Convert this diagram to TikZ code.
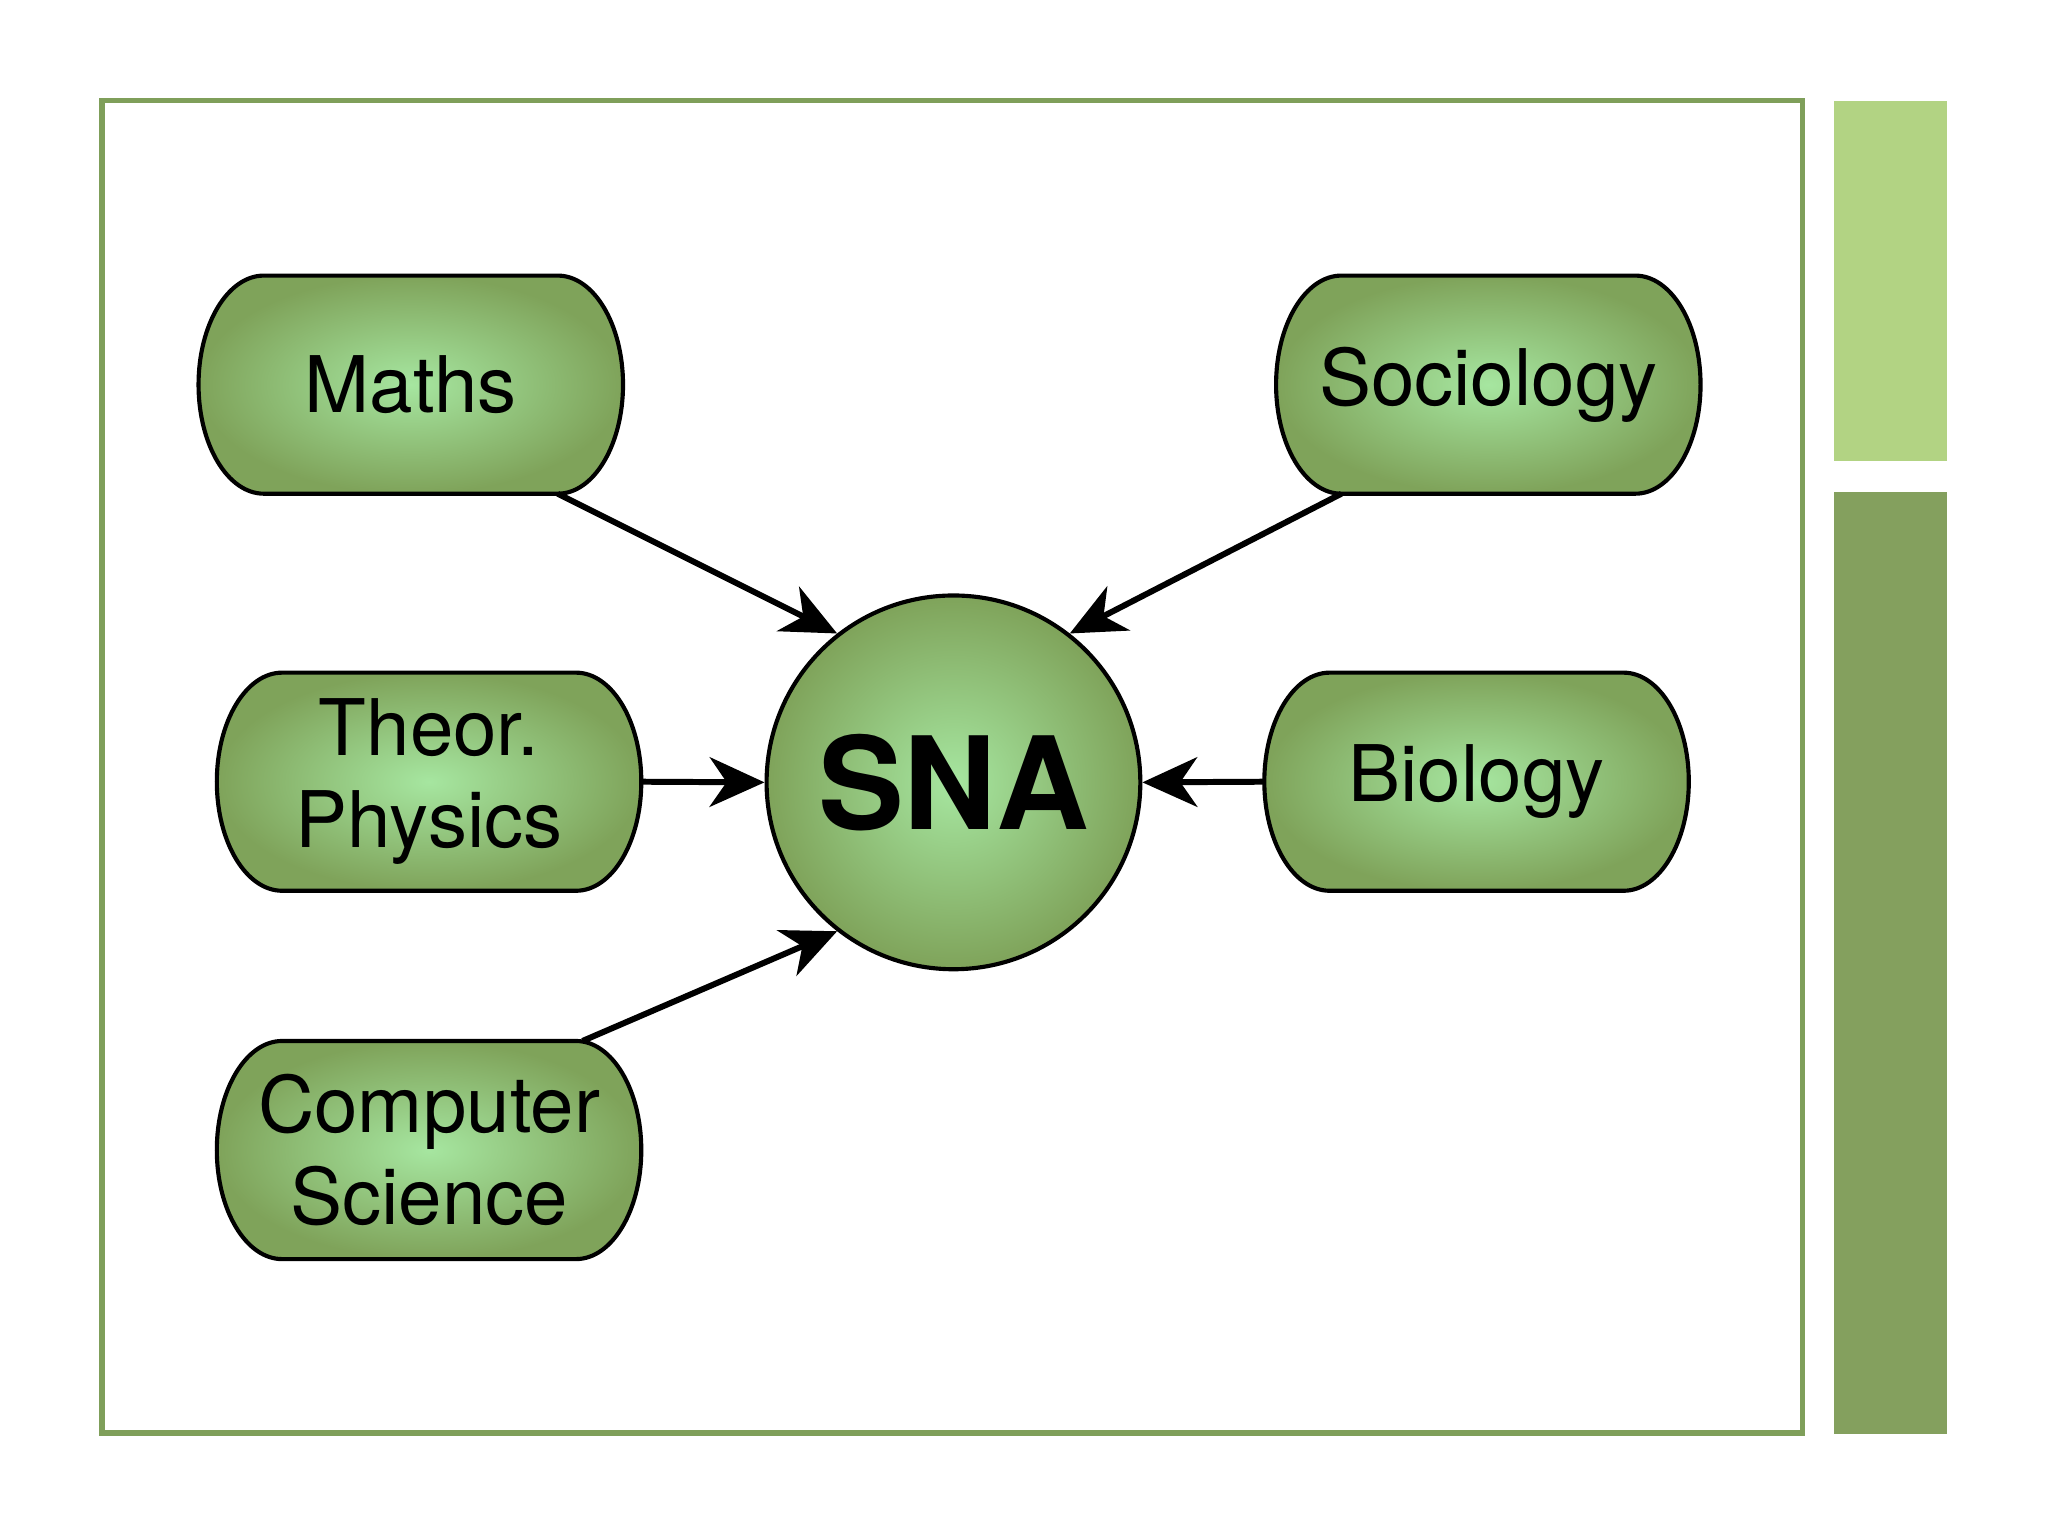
\documentclass[tikz,border=0pt]{standalone}
\usepackage{fontspec}
\setmainfont{TeX Gyre Heros}
\usetikzlibrary{arrows.meta}
\definecolor{frameg}{HTML}{7F9F5A}
\definecolor{lightbar}{HTML}{B2D383}
\definecolor{darkbar}{HTML}{84A05E}
\definecolor{innerg}{HTML}{A6E6A0}
\definecolor{outerg}{HTML}{7FA35A}
\tikzset{
  blob/.style={draw=black, line width=0.9pt, inner color=innerg, outer color=outerg},
  lbl/.style={font=\fontsize{17}{20}\selectfont, align=center, text=black},
  conn/.style={line width=1.3pt, -{Stealth[length=0.42cm,width=0.38cm,inset=0.13cm]}}
}
\newcommand{\myblob}[4]{% name, x0, y0, text
  \path[blob] (#2+50,#3) -- (#2+275,#3) arc[start angle=-90,end angle=90,x radius=50,y radius=83.5] -- (#2+50,#3+167) arc[start angle=90,end angle=270,x radius=50,y radius=83.5] -- cycle;
  \node[lbl] (#1) at (#2+162.5,#3+83.5) {#4};
  \coordinate (#1br) at (#2+275,#3+167);
  \coordinate (#1tr) at (#2+280,#3);
  \coordinate (#1bl) at (#2+50,#3+167);
  \coordinate (#1r) at (#2+325,#3+83.5);
  \coordinate (#1l) at (#2,#3+83.5);
}
\begin{document}
\begin{tikzpicture}[x=0.01cm,y=-0.01cm]
\useasboundingbox (0,0) rectangle (1568,1176);
\fill[white] (0,0) rectangle (1568,1176);
\draw[frameg, line width=1.2pt] (78,77) rectangle (1380,1097);
\fill[lightbar] (1404,77) rectangle (1491,353);
\fill[darkbar] (1404,377) rectangle (1491,1098);
\myblob{m}{152}{211}{Maths}
\myblob{s}{977}{211}{Sociology}
\myblob{p}{166}{515}{Theor.\\Physics}
\myblob{b}{968}{515}{Biology}
\myblob{c}{166}{797}{Computer\\Science}
\node[circle, blob, minimum size=2.86cm, inner sep=0pt, font=\fontsize{28}{32}\selectfont\bfseries] (sna) at (730,599) {SNA};
\draw[conn] (mbr) -- (sna.128);
\draw[conn] (sbl) -- (sna.52);
\draw[conn] (pr) -- (sna.west);
\draw[conn] (bl) -- (sna.east);
\draw[conn] (ctr) -- (sna.232);
\end{tikzpicture}
\end{document}
